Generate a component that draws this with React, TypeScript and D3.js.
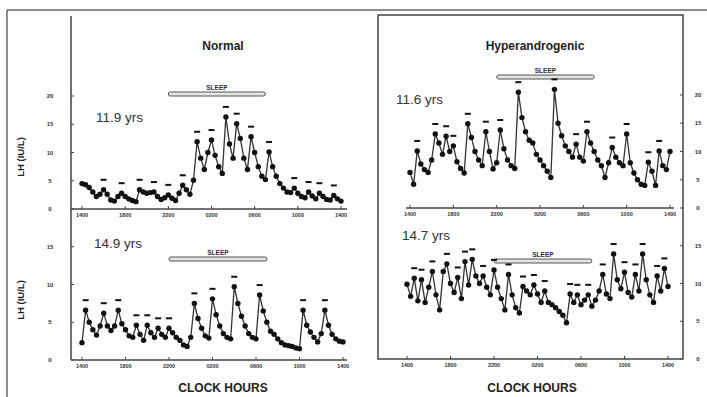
import React from 'react';
import * as d3 from 'd3';

// ---- data ----
const HOUR_TICKS = [0, 4, 8, 12, 16, 20, 24];
const HOUR_LABELS = ['1400', '1800', '2200', '0200', '0600', '1000', '1400'];
const SAMPLE_STEP_H = 1 / 3; // 20-minute sampling
const SLEEP_START = 8;
const SLEEP_END = 17;

const normal119 = [
  4.5, 4.3, 3.8, 3.0, 2.2, 2.6, 3.4, 2.6, 1.6, 1.4, 2.2, 2.8, 2.2, 1.8, 1.5, 1.3,
  3.4, 3.0, 2.8, 2.9, 3.0, 2.2, 1.7, 2.0, 2.5, 1.9, 1.5, 2.8, 4.2, 3.4, 2.6, 5.1,
  11.9, 9.0, 7.0, 10.0, 12.2, 9.5, 7.5, 6.3, 16.3, 11.5, 9.0, 15.1, 12.5, 9.0, 7.0,
  12.8, 10.0, 7.5, 5.8, 5.2, 10.1, 7.5, 5.8, 4.5, 3.7, 3.0, 2.9, 3.7, 2.8, 2.2, 2.0,
  3.0, 2.3, 1.8, 2.8, 2.2, 1.7, 1.6, 2.4, 1.8, 1.4,
];
const normal119Pulses = [6, 11, 16, 20, 24, 28, 32, 36, 40, 43, 47, 52, 59, 63, 66, 70];

const hyper116 = [
  6.3, 4.2, 10.1, 7.8, 6.8, 6.3, 8.5, 13.1, 11.5, 9.5, 12.7, 10.0, 11.0, 8.2, 7.0, 6.2,
  14.9, 12.5, 10.0, 8.5, 7.5, 13.5, 10.0, 6.9, 8.0, 13.8, 10.5, 8.5, 7.5, 7.0, 20.5,
  16.0, 13.5, 12.0, 11.5, 9.5, 8.5, 7.5, 6.5, 5.4, 21.0, 15.0, 12.8, 11.0, 10.0, 9.0,
  11.3, 9.0, 8.3, 13.5, 11.5, 10.0, 8.5, 7.5, 5.4, 8.0, 10.7, 9.0, 8.0, 7.5, 13.1,
  8.0, 6.2, 5.0, 4.2, 4.0, 8.1, 6.5, 4.0, 10.1, 7.5, 6.8, 10.0,
];
const hyper116Pulses = [2, 7, 10, 12, 16, 21, 25, 30, 40, 46, 49, 56, 60, 66, 69];

const normal149 = [
  2.3, 6.6, 5.0, 4.0, 3.3, 4.5, 6.2, 4.5, 3.9, 4.5, 6.6, 4.8, 4.0, 3.2, 3.0, 4.6,
  3.4, 2.6, 4.6, 3.6, 3.0, 4.2, 3.4, 3.0, 4.2, 3.6, 3.0, 2.6, 2.0, 1.8, 3.0, 7.5,
  5.5, 4.2, 3.2, 2.9, 8.1, 6.0, 4.5, 3.5, 3.0, 2.8, 9.7, 7.5, 5.8, 4.5, 3.5, 3.0,
  2.8, 8.6, 6.5, 5.0, 3.8, 3.4, 2.8, 2.3, 2.0, 1.9, 1.8, 1.6, 1.5, 6.6, 4.6, 3.7,
  3.0, 2.4, 3.5, 6.6, 4.6, 3.4, 2.8, 2.5, 2.4,
];
const normal149Pulses = [1, 6, 10, 15, 18, 21, 24, 31, 36, 42, 49, 61, 67];

const hyper147 = [
  9.9, 8.3, 10.7, 7.7, 10.5, 7.5, 9.5, 11.6, 8.5, 6.5, 11.6, 12.6, 10.0, 8.8, 10.8,
  8.0, 12.9, 9.8, 13.2, 11.0, 10.0, 11.0, 9.5, 8.5, 11.8, 9.5, 8.0, 6.5, 11.2, 8.5,
  6.8, 6.1, 9.6, 9.0, 8.5, 9.8, 8.6, 7.5, 9.0, 7.5, 7.2, 6.8, 6.3, 5.8, 4.8, 8.6,
  7.5, 8.5, 7.2, 7.8, 8.5, 7.0, 7.8, 9.0, 11.2, 8.6, 8.0, 13.9, 10.5, 9.3, 11.5,
  8.8, 8.2, 11.2, 9.0, 13.9, 10.5, 8.5, 7.5, 11.0, 9.0, 12.0, 9.6,
];
const hyper147Pulses = [2, 4, 7, 11, 14, 16, 18, 21, 24, 28, 32, 35, 38, 45, 47, 50, 54, 57, 60, 63, 65, 69, 71];

const TOP_Y_TICKS = [0, 5, 10, 15, 20];
const BOTTOM_Y_TICKS = [0, 5, 10, 15];

// ---- layout ----
type Panel = {
  values: number[];
  pulses: number[];
  xr: [number, number];
  yr: [number, number];
  yTicks: number[];
  side: 'left' | 'right';
  age: string;
  ageX: number;
  ageY: number;
  sleepY: number;
  xAxisY: number;
  yTickX: number;
};

const panels: Panel[] = [
  { values: normal119, pulses: normal119Pulses, xr: [82, 341], yr: [209, 96], yTicks: TOP_Y_TICKS, side: 'left',
    age: '11.9 yrs', ageX: 96, ageY: 122, sleepY: 94, xAxisY: 209, yTickX: 71 },
  { values: hyper116, pulses: hyper116Pulses, xr: [410, 670], yr: [208, 95], yTicks: TOP_Y_TICKS, side: 'right',
    age: '11.6 yrs', ageX: 396, ageY: 104, sleepY: 77, xAxisY: 208, yTickX: 683 },
  { values: normal149, pulses: normal149Pulses, xr: [82, 343], yr: [360, 209], yTicks: BOTTOM_Y_TICKS, side: 'left',
    age: '14.9 yrs', ageX: 94, ageY: 248, sleepY: 259, xAxisY: 360, yTickX: 71 },
  { values: hyper147, pulses: hyper147Pulses, xr: [407, 668], yr: [359, 208], yTicks: BOTTOM_Y_TICKS, side: 'right',
    age: '14.7 yrs', ageX: 402, ageY: 240, sleepY: 261, xAxisY: 359, yTickX: 683 },
];

const FONT = '"Liberation Sans", Arial, Helvetica, sans-serif';
const INK = '#222';

function PanelView({ p }: { p: Panel }) {
  const x = d3.scaleLinear().domain([0, 24]).range(p.xr);
  const y = d3.scaleLinear().domain([0, 20]).range(p.yr);
  const pts = p.values.map((v, i) => [i * SAMPLE_STEP_H, v] as [number, number]);
  const line = d3.line<[number, number]>().x((d) => x(d[0])).y((d) => y(d[1]));
  const sx0 = x(SLEEP_START);
  const sx1 = x(SLEEP_END);
  const isTopRight = p.side === 'right' && p.xAxisY < 300;
  const isLeft = p.side === 'left';
  return (
    <g>
      {(isLeft || isTopRight) && (
        <line x1={isLeft ? 71 : x(0) - 4} x2={isLeft ? 347 : x(24) + 4} y1={p.xAxisY} y2={p.xAxisY} stroke="#444" strokeWidth={1.3} />
      )}
      {HOUR_TICKS.map((h, i) => (
        <g key={h}>
          <line x1={x(h)} x2={x(h)} y1={p.xAxisY} y2={p.xAxisY - 3} stroke="#444" strokeWidth={1} />
          <text x={x(h)} y={p.xAxisY + 8} fontSize={5.5} fontWeight="bold" textAnchor="middle" fill="#333" fontFamily={FONT}>
            {HOUR_LABELS[i]}
          </text>
        </g>
      ))}
      {p.yTicks.map((t) => (
        <g key={t}>
          <line
            x1={p.yTickX}
            x2={p.side === 'left' ? p.yTickX + 3 : p.yTickX - 3}
            y1={y(t)}
            y2={y(t)}
            stroke="#444"
            strokeWidth={1}
          />
          <text
            x={p.side === 'left' ? 50 : 698}
            y={y(t) + 2}
            fontSize={6}
            fontWeight="bold"
            textAnchor="middle"
            fill="#333"
            fontFamily={FONT}
          >
            {t}
          </text>
        </g>
      ))}
      <rect x={sx0} y={p.sleepY - 2} width={sx1 - sx0} height={4} rx={2} fill="#e4e4e4" stroke="#555" strokeWidth={1} />
      <text x={(sx0 + sx1) / 2} y={p.sleepY - 4} fontSize={6.5} textAnchor="middle" fill="#333" fontFamily={FONT} fontWeight="bold">
        SLEEP
      </text>
      <text x={p.ageX} y={p.ageY} fontSize={13.5} fill="#333" fontFamily={FONT}>
        {p.age}
      </text>
      <path d={line(pts) || ''} fill="none" stroke="#333" strokeWidth={1.3} />
      {pts.map((d, i) => (
        <circle key={i} cx={x(d[0])} cy={y(d[1])} r={2.7} fill="#111" />
      ))}
      {p.pulses.map((i) => (
        <line
          key={'p' + i}
          x1={x(pts[i][0]) - 3}
          x2={x(pts[i][0]) + 3}
          y1={y(pts[i][1]) - 10}
          y2={y(pts[i][1]) - 10}
          stroke="#111"
          strokeWidth={2}
        />
      ))}
    </g>
  );
}

export default function App() {
  return (
    <svg
      width={707}
      height={397}
      viewBox="0 0 707 397"
      style={{ position: 'absolute', left: 0, top: 0, background: '#fff' }}
    >
      <rect x={0} y={0} width={707} height={397} fill="#fdfdfd" />
      <line x1={7} x2={707} y1={10} y2={10} stroke="#666" strokeWidth={1.5} />
      <line x1={7} x2={7} y1={10} y2={397} stroke="#666" strokeWidth={1.5} />
      <line x1={71} x2={71} y1={16} y2={360} stroke="#444" strokeWidth={1.5} />
      <rect x={378} y={15} width={305} height={344} fill="none" stroke="#444" strokeWidth={1.5} />

      <text x={223} y={50} fontSize={12} fontWeight="bold" textAnchor="middle" fill={INK} fontFamily={FONT}>
        Normal
      </text>
      <text x={535} y={50} fontSize={12} fontWeight="bold" textAnchor="middle" fill={INK} fontFamily={FONT}>
        Hyperandrogenic
      </text>

      <text transform="translate(24,157) rotate(-90)" fontSize={9.5} fontWeight="bold" textAnchor="middle" fill={INK} fontFamily={FONT}>
        LH (IU/L)
      </text>
      <text transform="translate(24,300) rotate(-90)" fontSize={9.5} fontWeight="bold" textAnchor="middle" fill={INK} fontFamily={FONT}>
        LH (IU/L)
      </text>

      {panels.map((p, i) => (
        <PanelView key={i} p={p} />
      ))}

      <text x={223} y={392} fontSize={12} fontWeight="bold" textAnchor="middle" fill={INK} fontFamily={FONT}>
        CLOCK HOURS
      </text>
      <text x={532} y={392} fontSize={12} fontWeight="bold" textAnchor="middle" fill={INK} fontFamily={FONT}>
        CLOCK HOURS
      </text>
    </svg>
  );
}
